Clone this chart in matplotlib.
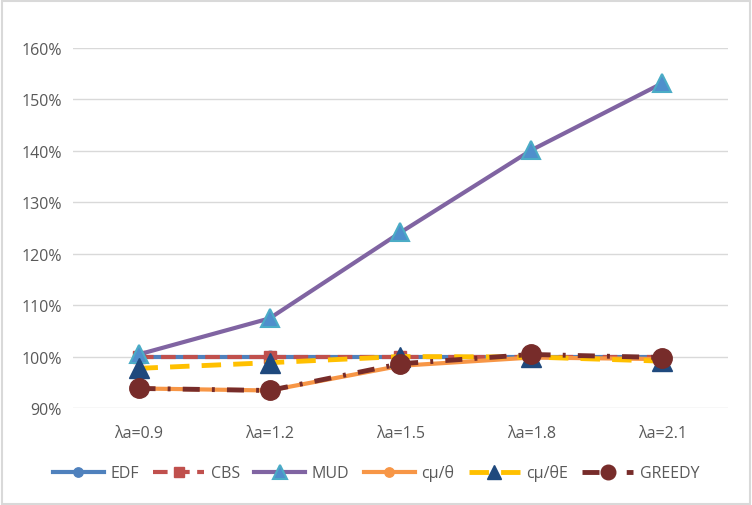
import matplotlib
matplotlib.use("Agg")
import matplotlib.pyplot as plt
from matplotlib.patches import Rectangle
from matplotlib.ticker import FuncFormatter

categories = ["λa=0.9", "λa=1.2", "λa=1.5", "λa=1.8", "λa=2.1"]
edf = [1.000, 1.000, 1.000, 1.000, 1.000]
cbs = [1.000, 1.000, 1.000, 1.000, 1.000]
mud = [1.004, 1.074, 1.241, 1.401, 1.531]
cmu_theta = [0.938, 0.934, 0.982, 0.998, 0.995]
cmu_thetaE = [0.977, 0.988, 1.000, 0.999, 0.991]
greedy = [0.938, 0.934, 0.986, 1.004, 0.998]
yticks = [0.9, 1.0, 1.1, 1.2, 1.3, 1.4, 1.5, 1.6]

plt.rcParams['font.family'] = ['Open Sans', 'DejaVu Sans']

fig = plt.figure(figsize=(7.52, 5.06), dpi=100)
fig.patches.append(Rectangle((0.002, 0.002), 0.996, 0.994, transform=fig.transFigure,
                             fill=False, edgecolor='#D9D9D9', linewidth=1.5))
ax = fig.add_axes([73/752, 1-409/506, (728-73)/752, (409-48.6)/506])

x = list(range(len(categories)))

ax.plot(x, edf, color='#4F81BD', lw=3, marker='o', ms=9, mfc='#4F81BD', mec='#4F81BD',
        label='EDF', zorder=3)
ax.plot(x, cbs, color='#C0504D', lw=3, ls=(0, (3.5, 1.8)), marker='s', ms=9,
        mfc='#C0504D', mec='#C0504D', label='CBS', zorder=4)
ax.plot(x, mud, color='#8064A2', lw=3, marker='^', ms=13, mfc='#4F8FCC', mec='#4BACC6',
        mew=1.5, label='MUD', zorder=5)
ax.plot(x, cmu_theta, color='#F79646', lw=3, marker='o', ms=9, mfc='#F79646', mec='#F79646',
        label='cμ/θ', zorder=6)
ax.plot(x, cmu_thetaE, color='#FFC000', lw=3.5, ls=(0, (4, 2.5)), marker='^', ms=14,
        mfc='#1F497D', mec='#1F497D', label='cμ/θE', zorder=7)
ax.plot(x, greedy, color='#772C2A', lw=3.5, ls=(0, (3.5, 2.5, 0.6, 2.5)), marker='o', ms=14,
        mfc='#772C2A', mec='#772C2A', label='GREEDY', zorder=8)

ax.set_xlim(-0.5, 4.5)
ax.set_ylim(0.9, 1.6)
ax.set_yticks(yticks)
ax.yaxis.set_major_formatter(FuncFormatter(lambda v, p: f"{v*100:.0f}%"))
ax.set_xticks(x)
ax.set_xticklabels(categories)
ax.grid(axis='y', color='#D9D9D9', lw=1)
ax.set_axisbelow(True)
for s in ax.spines.values():
    s.set_visible(False)
ax.tick_params(axis='both', length=0, labelsize=11.5, colors='#595959', pad=8)
ax.tick_params(axis='x', pad=12)

fig.legend(loc='center', bbox_to_anchor=(0.5, 1-474/506), ncol=6, frameon=False,
           fontsize=11.5, labelcolor='#595959', handlelength=3.2, columnspacing=0.9,
           handletextpad=0.4, markerscale=0.75)

fig.savefig('out.png', dpi=100, facecolor='white')
